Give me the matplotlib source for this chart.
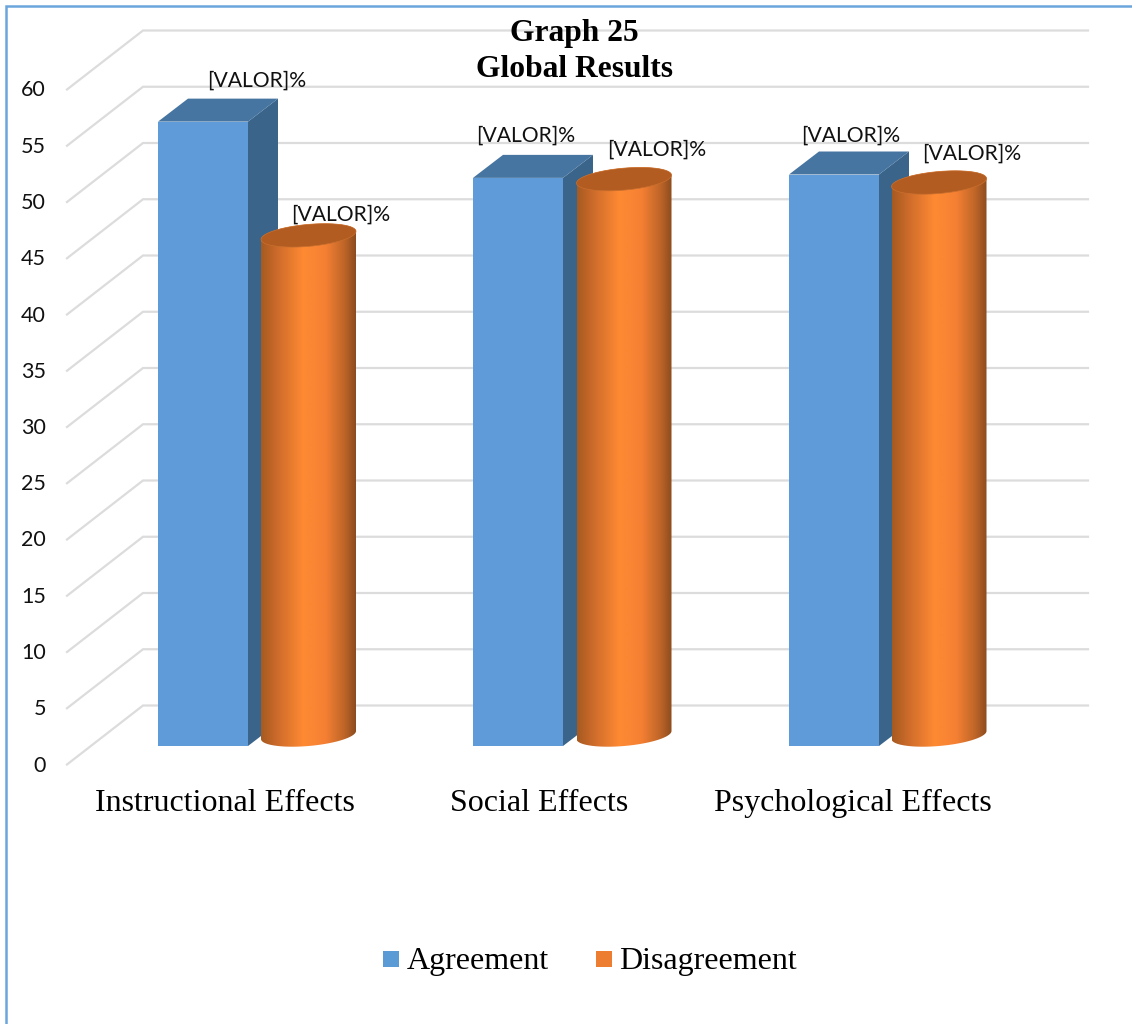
import numpy as np
import matplotlib
matplotlib.use("Agg")
import matplotlib.pyplot as plt
from matplotlib.colors import LinearSegmentedColormap
from matplotlib.patches import Polygon, Rectangle

# Chart data
categories = ["Instructional Effects", "Social Effects", "Psychological Effects"]
agreement = [55.5, 50.5, 50.8]
disagreement = [44.5, 49.5, 49.2]
series_names = ["Agreement", "Disagreement"]
y_ticks = list(range(0, 65, 5))
value_label = "[VALOR]%"

W, H = 1132, 1024
SERIF = "Liberation Serif"
SANS = "Lato"

fig = plt.figure(figsize=(W / 100, H / 100), dpi=100)
ax = fig.add_axes([0, 0, 1, 1])


def wall_y(v):
    # height on the back wall
    return 705.5 - 11.25 * v


def draw_grid():
    for v in y_ticks:
        y = wall_y(v)
        ax.plot([67, 143, 1088], [y + 59, y, y], color="#DCDCDC", lw=1.6, zorder=1,
                solid_joinstyle="miter")
        ax.text(46, y + 60, str(v), ha="right", va="center", family=SANS, fontsize=15.5,
                color="#111111", zorder=6)


def draw_box(x0, v, base=746, width=90, dx=30, dy=23):
    top = base - 11.25 * v
    x1 = x0 + width
    ax.add_patch(Polygon([(x1, top), (x1 + dx, top - dy), (x1 + dx, base - dy), (x1, base)],
                         fc="#3A6489", ec="none", zorder=2))
    ax.add_patch(Polygon([(x0, top), (x0 + dx, top - dy), (x1 + dx, top - dy), (x1, top)],
                         fc="#4675A1", ec="none", zorder=2))
    ax.add_patch(Rectangle((x0, top), width, base - top, fc="#5E9BD8", ec="none", zorder=3))


cyl_cmap = LinearSegmentedColormap.from_list("cyl", [
    (0.0, "#A65A22"), (0.18, "#CF6C2B"), (0.45, "#FF8A33"),
    (0.68, "#F58033"), (0.88, "#BE6528"), (1.0, "#8C4C1D"),
])


def draw_cylinder(cx, v, base=735, a=47.5, b=11, tilt=4):
    top = base - 11.25 * v + 1
    t = np.linspace(0, np.pi, 80)
    # lower half of the bottom rim, right to left, then upper half of the top rim
    bottom_rim = np.column_stack([cx + a * np.cos(t), base + b * np.sin(t) - tilt * np.cos(t)])
    top_rim = np.column_stack([cx - a * np.cos(t), top - b * np.sin(t) + tilt * np.cos(t)])
    body = Polygon(np.vstack([bottom_rim, top_rim]), fc="none", ec="none",
                   transform=ax.transData)
    ax.add_patch(body)
    im = ax.imshow(np.linspace(0, 1, 256)[None, :], cmap=cyl_cmap, aspect="auto",
                   extent=[cx - a, cx + a, base + b + 6, top - b - 6], zorder=4,
                   interpolation="bilinear")
    im.set_clip_path(body)
    tt = np.linspace(0, 2 * np.pi, 160)
    cap = np.column_stack([cx + a * np.cos(tt), top + b * np.sin(tt) - tilt * np.cos(tt)])
    ax.add_patch(Polygon(cap, fc="#B35C21", ec="#C9702F", lw=0.5, zorder=5))


draw_grid()

box_x = [158, 473, 789]
cyl_x = [308.5, 624, 939]
for x0, cx, a_val, d_val in zip(box_x, cyl_x, agreement, disagreement):
    draw_box(x0, a_val)
    draw_cylinder(cx, d_val)

# value labels, placed by hand around each bar
agree_offset = [(257, -41), (526, -42), (851, -39)]
disagree_offset = [(341, -20), (657, -28), (972, -28)]
for (x, off), v in zip(agree_offset, agreement):
    ax.text(x, 746 - 11.25 * v + off, value_label, ha="center", va="center", family=SANS,
            fontsize=15.2, color="#111111", zorder=7)
for (x, off), v in zip(disagree_offset, disagreement):
    ax.text(x, 735 - 11.25 * v + off, value_label, ha="center", va="center", family=SANS,
            fontsize=15.2, color="#111111", zorder=7)

# category labels
for x, name in zip([225, 539, 853], categories):
    ax.text(x, 811, name, ha="center", va="baseline", family=SERIF, fontsize=23, color="black")

# title
ax.text(574, 41, "Graph 25", ha="center", va="baseline", family=SERIF, fontsize=22.7,
        fontweight="bold", color="black", zorder=8)
ax.text(574, 77, "Global Results", ha="center", va="baseline", family=SERIF, fontsize=22.7,
        fontweight="bold", color="black", zorder=8)

# legend
for x_box, x_txt, col, name in zip([383, 596], [407, 619], ["#5B9BD5", "#ED7D31"], series_names):
    ax.add_patch(Rectangle((x_box, 951), 16, 16, fc=col, ec="none"))
    ax.text(x_txt, 969, name, ha="left", va="baseline", family=SERIF, fontsize=23, color="black")

# outer border: left and top only reach the edge of the page
ax.plot([6, 6, W], [H, 6, 6], color="#6AA5DC", lw=1.8, solid_joinstyle="miter", zorder=9)

ax.set_xlim(0, W)
ax.set_ylim(H, 0)
ax.axis("off")
fig.savefig("out.png", dpi=100, facecolor="white")
